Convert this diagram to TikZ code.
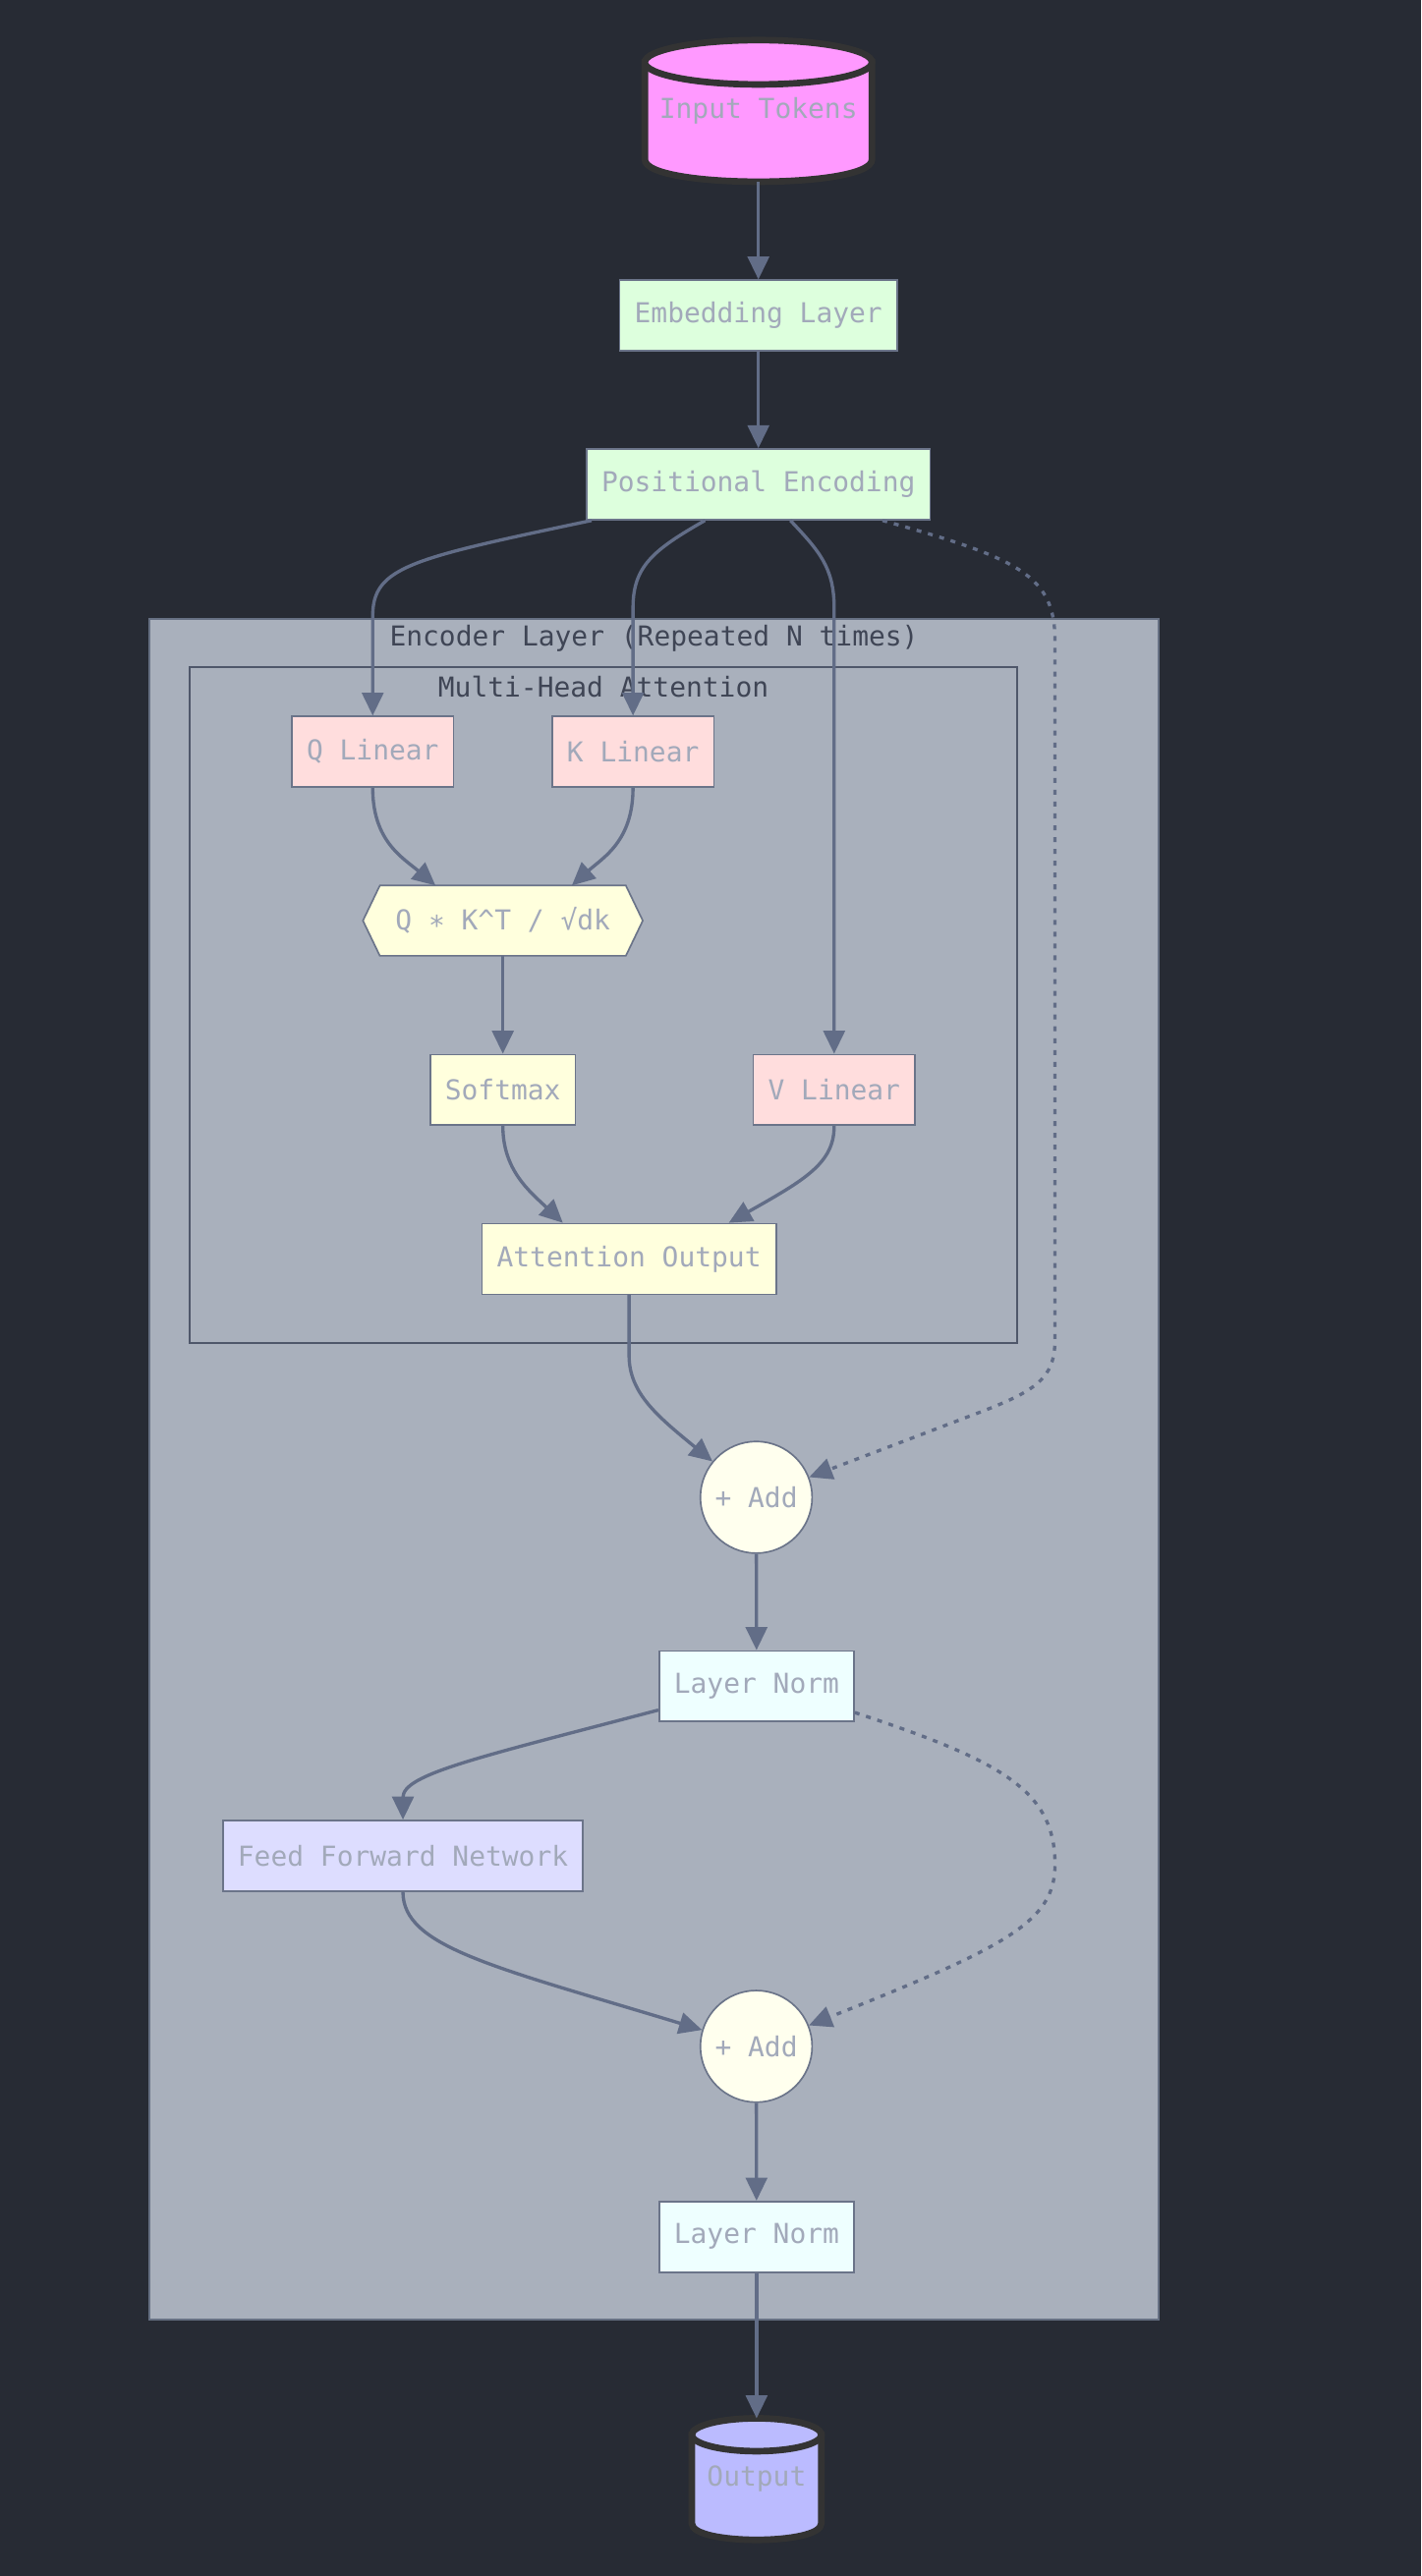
\documentclass[tikz,border=0pt]{standalone}
\usepackage{fontspec}
\setmonofont{DejaVu Sans Mono}
\usetikzlibrary{arrows.meta,calc}
\pgfdeclarelayer{bg}
\pgfdeclarelayer{mid}
\pgfsetlayers{bg,mid,main}
\definecolor{bgc}{HTML}{272B34}
\definecolor{clfill}{HTML}{A9B0BC}
\definecolor{cloutline}{HTML}{667083}
\definecolor{clinline}{HTML}{4F576A}
\definecolor{cltext}{HTML}{3F4555}
\definecolor{edgec}{HTML}{626D87}
\definecolor{nodestroke}{HTML}{6B7489}
\definecolor{nodetext}{HTML}{A2A9BA}
\definecolor{greenf}{HTML}{DDFFDD}
\definecolor{pinkf}{HTML}{FFDDDD}
\definecolor{yellowf}{HTML}{FFFFDD}
\definecolor{ivoryf}{HTML}{FFFFEE}
\definecolor{azuref}{HTML}{EEFFFF}
\definecolor{lavf}{HTML}{DDDDFF}
\definecolor{inpf}{HTML}{FF99FF}
\definecolor{outf}{HTML}{BBBBFF}
\definecolor{cylstroke}{HTML}{333333}
\begin{document}
\begin{tikzpicture}[x=1pt,y=-1pt,
  every node/.style={font=\ttfamily\fontsize{16.7}{20}\selectfont, text=nodetext},
  box/.style={draw=nodestroke, line width=1pt, minimum height=43pt, inner xsep=9pt, inner ysep=0pt},
  addnode/.style={circle, draw=nodestroke, line width=1pt, fill=ivoryf, minimum size=68pt, inner sep=0pt},
  plain/.style={inner sep=0pt, outer sep=0pt},
  cl/.style={text=cltext},
  cyl/.style={draw=cylstroke, line width=4pt},
  edge/.style={draw=edgec, line width=2pt, -{Triangle[length=14pt,width=13pt]}},
  dotedge/.style={edge, dash pattern=on 3pt off 4.2pt}]

\useasboundingbox (0,0) rectangle (865,1568);

% background and clusters
\begin{pgfonlayer}{bg}
\fill[bgc] (0,0) rectangle (865,1568);
\filldraw[fill=clfill, draw=cloutline, line width=1.2pt] (91,376.5) rectangle (705.3,1412);
\draw[draw=clinline, line width=1.2pt] (115.5,406) rectangle (618.8,817.7);
\end{pgfonlayer}
\node[cl] (enclabel) at (398,388.4) {Encoder Layer (Repeated N times)};
\node[cl] (mhalabel) at (367.2,418.3) {Multi-Head Attention};

% cylinders
\filldraw[cyl, fill=inpf] (392.4,37.9) -- (392.4,97.1) .. controls (392.4,115.1) and (530.6,115.1) .. (530.6,97.1) -- (530.6,37.9) -- cycle;
\filldraw[cyl, fill=inpf] (461.5,37.9) ellipse [x radius=69.1, y radius=13.5];
\node[plain, minimum width=138.2pt, minimum height=86.2pt] (inp) at (461.5,67.5) {Input Tokens};

\filldraw[cyl, fill=outf] (421,1482) -- (421,1536) .. controls (421,1549.3) and (499.8,1549.3) .. (499.8,1536) -- (499.8,1482) -- cycle;
\filldraw[cyl, fill=outf] (460.4,1482) ellipse [x radius=39.4, y radius=10];
\node[plain, minimum width=78.8pt, minimum height=74pt] (out) at (460.4,1509) {Output};

% nodes
\node[box, fill=greenf] (emb) at (461.5,192.1) {Embedding Layer};
\node[box, fill=greenf] (pos) at (461.5,294.8) {Positional Encoding};
\node[box, fill=pinkf] (q) at (226.8,457.6) {Q Linear};
\node[box, fill=pinkf] (k) at (385.2,457.6) {K Linear};
\node[plain, minimum width=170.3pt, minimum height=42.8pt] (hex) at (306,560.4) {Q ∗ K\textasciicircum T / √dk};
\begin{pgfonlayer}{mid}
\filldraw[fill=yellowf, draw=nodestroke, line width=1pt] (hex.west) -- ($(hex.north west)+(10.3,0)$) -- ($(hex.north east)+(-10.3,0)$) -- (hex.east) -- ($(hex.south east)+(-10.3,0)$) -- ($(hex.south west)+(10.3,0)$) -- cycle;
\end{pgfonlayer}
\node[box, fill=yellowf] (soft) at (306,663.4) {Softmax};
\node[box, fill=pinkf] (v) at (507.6,663.4) {V Linear};
\node[box, fill=yellowf] (att) at (382.8,766.3) {Attention Output};
\node[addnode] (add1) at (460.2,911.4) {+ Add};
\node[box, fill=azuref] (ln1) at (460.4,1026.4) {Layer Norm};
\node[box, fill=lavf] (ffn) at (245.2,1129.6) {Feed Forward Network};
\node[addnode] (add2) at (460.2,1245.6) {+ Add};
\node[box, fill=azuref] (ln2) at (460.4,1361.5) {Layer Norm};

% edges
\draw[edge] (inp.south) -- (emb.north);
\draw[edge] (emb) -- (pos);
\draw[edge] ($(pos.south)+(-101.5,0)$) .. controls (250,340) and (226.8,345) .. (226.8,375) -- (q.north);
\draw[edge] ($(pos.south)+(-32.5,0)$) .. controls (397,335) and (385.2,345) .. (385.2,370) -- (k.north);
\draw[edge] ($(pos.south)+(19.5,0)$) .. controls (498,335) and (507.6,345) .. (507.6,370) -- (v.north);
\draw[dotedge] ($(pos.south)+(75.5,0)$) .. controls (620,340) and (642,350) .. (642,390) -- (642,815) .. controls (642,840) and (630,847) .. (590,862) -- (add1);
\draw[edge] (q.south) .. controls (226.8,512) and (245,522) .. ($(hex.north)+(-41,0)$);
\draw[edge] (k.south) .. controls (385.2,512) and (367,522) .. ($(hex.north)+(42,0)$);
\draw[edge] (hex.south) -- (soft.north);
\draw[edge] (soft.south) .. controls (306,712) and (322,725) .. ($(att.north)+(-40.3,0)$);
\draw[edge] (v.south) .. controls (507.6,708) and (490,718) .. ($(att.north)+(60.7,0)$);
\draw[edge] (att.south) -- (382.8,825) .. controls (382.8,848) and (400,862) .. (add1);
\draw[edge] (add1) -- (ln1);
\draw[edge] ($(ln1.west)+(0,14.5)$) .. controls (290,1070) and (245.2,1080) .. (ffn.north);
\draw[dotedge] ($(ln1.east)+(0,16)$) .. controls (610,1072) and (642,1090) .. (642,1135) .. controls (642,1170) and (612,1185) .. (add2);
\draw[edge] (ffn.south) .. controls (245.2,1185) and (300,1197) .. (add2);
\draw[edge] (add2) -- (ln2);
\draw[edge] (ln2.south) -- (out.north);
\end{tikzpicture}
\end{document}
